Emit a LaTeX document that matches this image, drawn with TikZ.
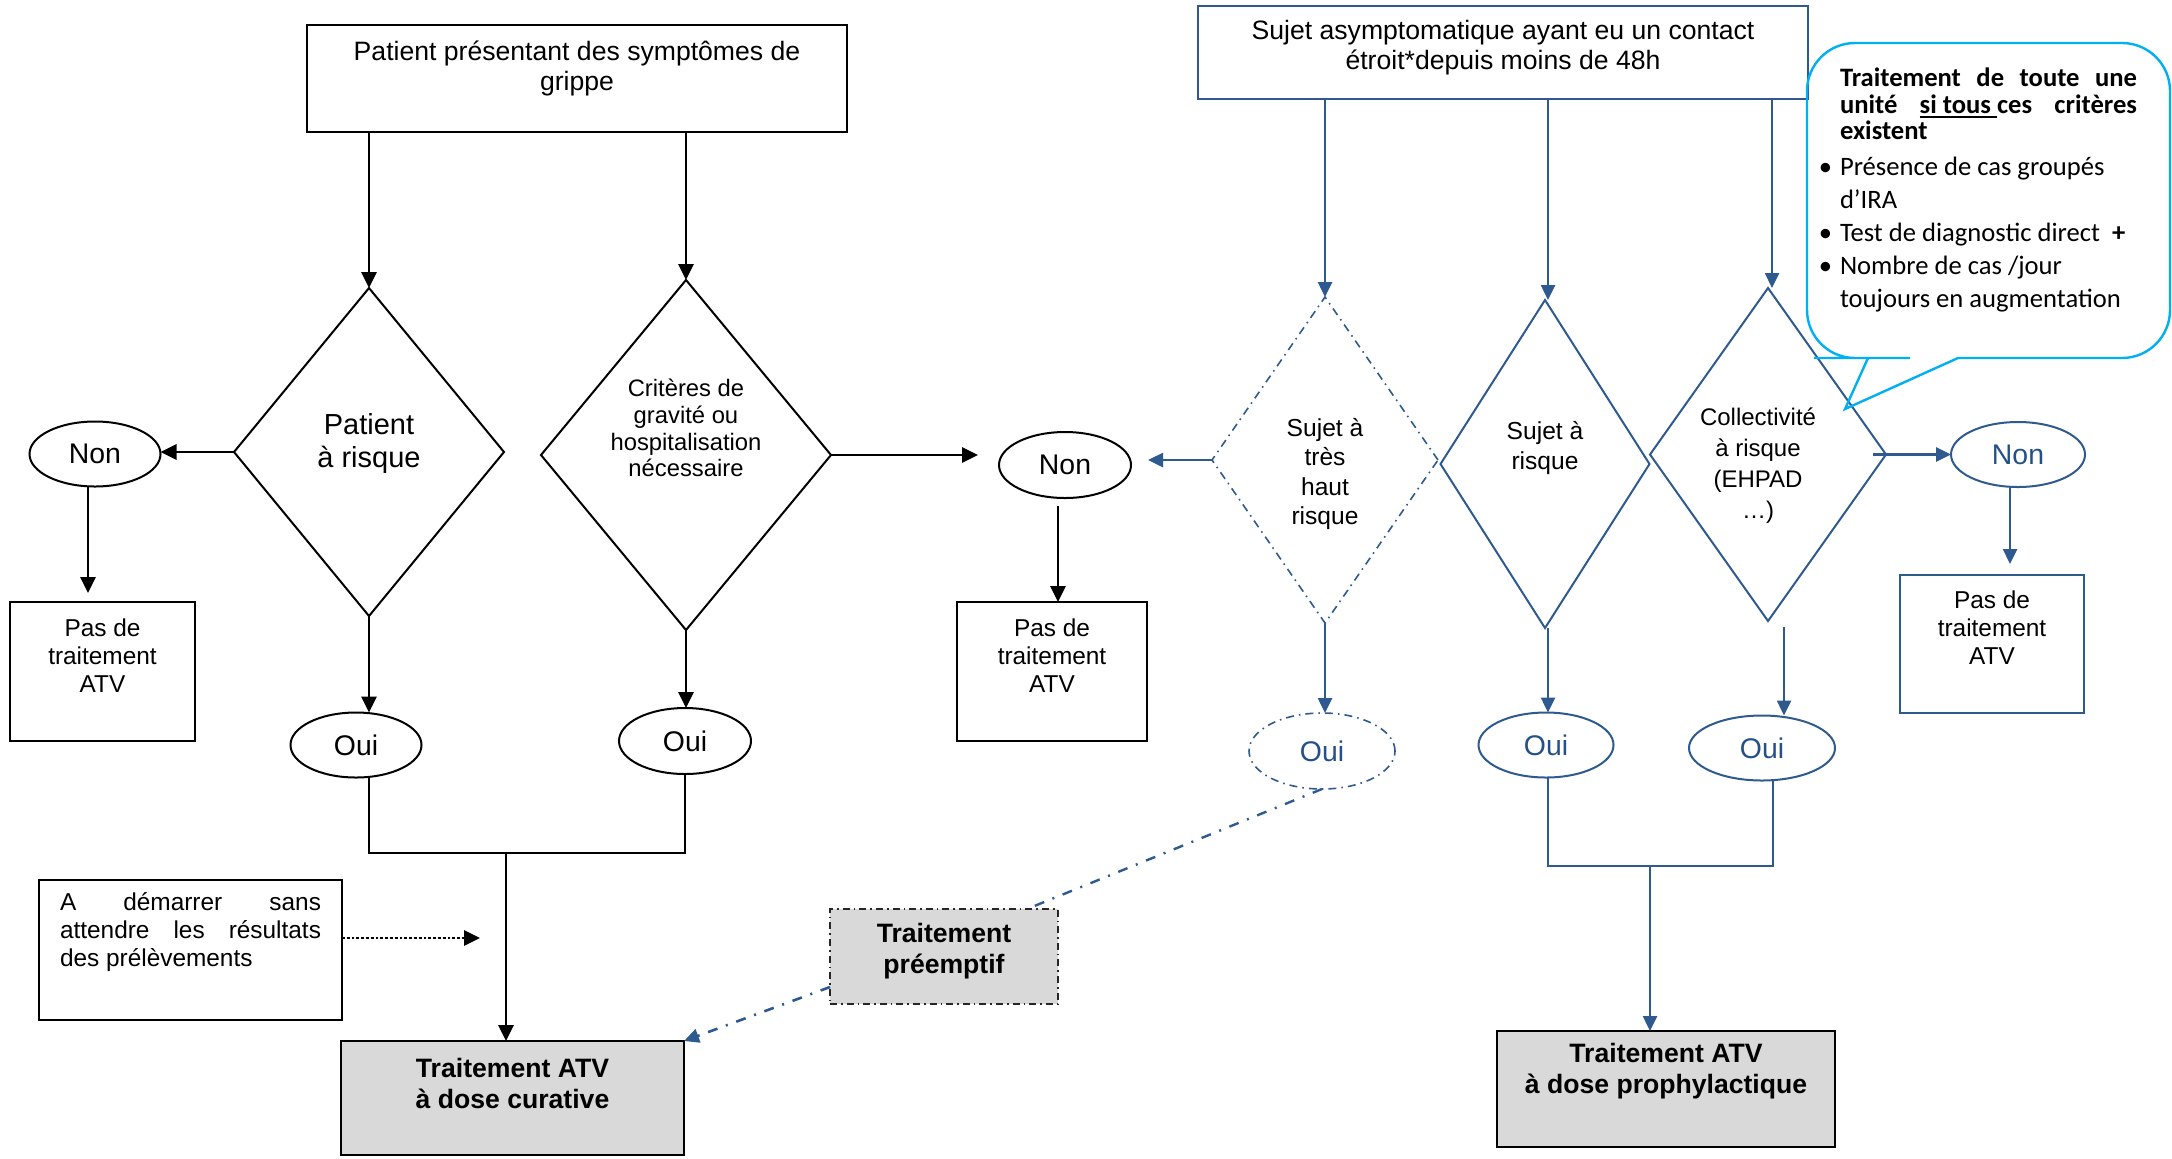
\documentclass[tikz,border=0pt]{standalone}
\usepackage{fontspec}
\setmainfont{Liberation Sans}
\newfontfamily\calfont{Carlito}
\usetikzlibrary{arrows.meta,shapes.geometric}
\definecolor{lblue}{HTML}{2F5A8F}
\definecolor{tblue}{HTML}{24508A}
\definecolor{cblue}{HTML}{00B0F0}
\definecolor{gfill}{HTML}{D9D9D9}
\newcommand{\ulbox}[1]{\setbox0\hbox{#1}\rlap{\rule[-2.6pt]{\wd0}{1.1pt}}\box0}
\newcommand{\fmain}{\fontsize{13.3}{15}\selectfont}
\newcommand{\fboldtxt}{\bfseries\fontsize{13.3}{15.5}\selectfont}
\newcommand{\fsmalltxt}{\fontsize{12.2}{14}\selectfont}
\newcommand{\fcrit}{\fontsize{11.9}{13.4}\selectfont}
\newcommand{\fpat}{\fontsize{14.5}{16.5}\selectfont}
\newcommand{\fcoll}{\fontsize{12}{15.5}\selectfont}
\newcommand{\fsuj}{\fontsize{12.3}{14.7}\selectfont}
\newcommand{\fon}{\fontsize{14.2}{16}\selectfont}
\newcommand{\bulitem}{\leavevmode\llap{\textbullet\hspace{4pt}}}
\begin{document}
\begin{tikzpicture}[x=0.5pt,y=-0.5pt,
  box/.style={shape=rectangle, draw=black, line width=1pt, inner sep=0pt, outer sep=0pt},
  bbox/.style={box, draw=lblue},
  dia/.style={shape=diamond, draw=black, line width=1pt, inner sep=0pt, outer sep=0pt},
  bdia/.style={dia, draw=lblue},
  ell/.style={shape=ellipse, draw=black, line width=1pt, inner sep=0pt, outer sep=0pt, font=\fon},
  bell/.style={ell, draw=lblue, text=tblue},
  lbl/.style={shape=rectangle, draw=none, fill=none, inner sep=0pt, align=center, text=black},
  arr/.style={-{Triangle[length=8pt,width=7.5pt]}, line width=1.4pt, draw=black},
  barr/.style={-{Triangle[length=7.5pt,width=7pt]}, line width=1.3pt, draw=lblue},
  ln/.style={line width=1.1pt, draw=black},
  bln/.style={line width=1.2pt, draw=lblue},
  ddot/.style={dash pattern=on 4pt off 2.5pt on 0.8pt off 2.5pt},
  ddotwide/.style={dash pattern=on 5pt off 4.5pt on 1pt off 4.5pt},
]
\useasboundingbox (0,0) rectangle (2172,1158);

% ---------- left part ----------
\node[box, minimum width=270pt, minimum height=53.5pt,
  label={[lbl,font=\fmain,yshift=5.25pt]center:{Patient présentant des symptômes de\\grippe}}] (topL) at (577,78.5) {};
\node[dia, minimum width=135pt, minimum height=164pt,
  label={[lbl,font=\fpat,yshift=4.25pt]center:{Patient\\à risque}}] (d1) at (369,452) {};
\node[dia, minimum width=145pt, minimum height=175pt,
  label={[lbl,font=\fcrit,yshift=13.5pt]center:{Critères de\\gravité ou\\hospitalisation\\nécessaire}}] (d2) at (686,455) {};
\node[ell, minimum width=65.5pt, minimum height=32.5pt] (nonL) at (95,454) {Non};
\node[box, minimum width=92.5pt, minimum height=69.5pt,
  label={[lbl,font=\fsmalltxt,yshift=8pt]center:{Pas de\\traitement\\ATV}}] (pasL) at (102.5,671.5) {};
\node[ell, minimum width=65.5pt, minimum height=32.5pt] (oui1) at (356,745) {Oui};
\node[ell, minimum width=66pt, minimum height=33pt] (oui2) at (685,741) {Oui};
\node[ell, minimum width=66pt, minimum height=33pt] (nonM) at (1065,465) {Non};
\node[box, minimum width=95pt, minimum height=69.5pt,
  label={[lbl,font=\fsmalltxt,yshift=8pt]center:{Pas de\\traitement\\ATV}}] (pasM) at (1052,671.5) {};
\node[box, fill=gfill, minimum width=171.5pt, minimum height=57pt,
  label={[lbl,font=\fboldtxt,yshift=7.5pt]center:{Traitement ATV\\à dose curative}}] (cur) at (512.5,1098) {};
\node[box, minimum width=151.5pt, minimum height=70pt,
  label={[lbl,font=\fsmalltxt,text width=130.5pt,align=justify,yshift=8.75pt]center:{A démarrer sans\linebreak attendre les résultats\linebreak des prélèvements}}] (dem) at (190.5,950) {};
\node[box, fill=gfill, draw=black!85, dash pattern=on 3.5pt off 2pt on 0.8pt off 2pt, minimum width=114pt, minimum height=47.5pt,
  label={[lbl,font=\fboldtxt,yshift=2.75pt]center:{Traitement\\préemptif}}] (pre) at (944,956.5) {};

% ---------- right part ----------
\node[bbox, minimum width=305pt, minimum height=46.5pt,
  label={[lbl,font=\fmain,yshift=2.25pt]center:{Sujet asymptomatique ayant eu un contact\\étroit*depuis moins de 48h}}] (topR) at (1503,52.5) {};
\node[bdia, ddot, line width=0.8pt, minimum width=113pt, minimum height=163pt,
  label={[lbl,font=\fsuj,yshift=-7pt]center:{Sujet à\\très\\haut\\risque}}] (d3) at (1325,460) {};
\node[bdia, minimum width=104.5pt, minimum height=164pt,
  label={[lbl,font=\fsuj,yshift=8pt]center:{Sujet à\\risque}}] (d4) at (1545,464) {};
\node[bdia, minimum width=118pt, minimum height=166.5pt,
  label={[lbl,font=\fcoll,xshift=-5pt,yshift=-5.75pt]center:{Collectivité\\à risque\\(EHPAD\\…)}}] (d5) at (1768,454.5) {};
\node[bell, ddot, line width=0.8pt, minimum width=73pt, minimum height=38pt] (ouiD) at (1322,751) {Oui};
\node[bell, minimum width=67.5pt, minimum height=32.5pt] (oui4) at (1546,745) {Oui};
\node[bell, minimum width=73pt, minimum height=32.5pt] (oui5) at (1762,748) {Oui};
\node[bell, minimum width=67pt, minimum height=32.5pt] (nonR) at (2018,454.5) {Non};
\node[bbox, minimum width=92pt, minimum height=69pt,
  label={[lbl,font=\fsmalltxt,yshift=8.25pt]center:{Pas de\\traitement\\ATV}}] (pasR) at (1992,644) {};
\node[box, fill=gfill, minimum width=169pt, minimum height=58pt,
  label={[lbl,font=\fboldtxt,yshift=8.75pt]center:{Traitement ATV\\à dose prophylactique}}] (pro) at (1666,1089) {};

% ---------- callout ----------
\draw[cblue, line width=1.2pt, rounded corners=24pt] (1990,43) -- (1807,43) -- (1807,358) -- (1862,358)
  [sharp corners] -- (1868,358) -- (1845,409) -- (1958,358) -- (1964,358)
  [rounded corners=24pt] -- (2170,358) -- (2170,43) -- cycle;
\node[anchor=north west, inner sep=0pt, outer sep=0pt, text width=148.5pt, align=justify,
  font=\calfont\fontsize{13.3}{13.3}\selectfont] (calltxt) at (1840,68) {%
\setlength{\parindent}{0pt}%
{\bfseries Traitement de toute une\linebreak unité \ulbox{si tous\ }ces critères\linebreak existent\par}
\fontsize{13.3}{16.6}\selectfont
\vspace{1pt}
\bulitem Présence de cas groupés\\d’IRA\par
\bulitem Test de diagnostic direct \ \textbf{+}\par
\bulitem Nombre de cas /jour\\toujours en augmentation\par};

% ---------- connectors left ----------
\draw[arr] (d1.north |- topL.south) -- (d1.north);
\draw[arr] (d2.north |- topL.south) -- (d2.north);
\draw[arr] (d1.west) -- (d1.west -| nonL.east);
\draw[arr, shorten >=4.5pt] ([xshift=-3.5pt]nonL.south) -- ([xshift=-3.5pt]nonL.south |- pasL.north);
\draw[arr] (d1.south) -- (d1.south |- oui1.north);
\draw[arr] (d2.south) -- (d2.south |- oui2.north);
\coordinate (j1) at (506,853);
\draw[ln] (oui1.south -| d1.south) -- (j1 -| d1.south) -- (j1 -| oui2.south) -- (oui2.south);
\draw[arr] (j1) -- (j1 |- cur.north);
\coordinate (demtip) at (480,938);
\draw[arr, densely dotted] (dem.east |- demtip) -- (demtip);
\draw[arr, shorten >=10.5pt] (d2.east) -- (d2.east -| nonM.west);
\draw[arr, shorten <=4pt] ([xshift=-3.5pt]nonM.south) -- ([xshift=-3.5pt]nonM.south |- pasM.north);

% ---------- connectors right ----------
\draw[barr] (d3.north |- topR.south) -- (d3.north);
\draw[barr] ([xshift=1.5pt]d4.north |- topR.south) -- ([xshift=1.5pt]d4.north);
\draw[barr] ([xshift=2pt]d5.north |- topR.south) -- ([xshift=2pt]d5.north);
\draw[barr, shorten >=8.5pt] (d3.west) -- (d3.west -| nonM.east);
\draw[barr] (d3.south) -- (d3.south |- ouiD.north);
\draw[barr] ([xshift=1.5pt]d4.south) -- ([xshift=1.5pt]d4.south |- oui4.north);
\coordinate (c5) at (1784,627);
\draw[barr] (c5) -- (c5 |- oui5.north);
\draw[barr] ([xshift=-6.5pt]d5.east) -- (nonR.west);
\draw[barr, shorten >=5.5pt] ([xshift=-4pt]nonR.south) -- ([xshift=-4pt]nonR.south |- pasR.north);
\coordinate (j2) at (1650,866);
\coordinate (j2r) at (1773,866);
\draw[bln] ([xshift=1pt]oui4.south) -- ([xshift=1pt]oui4.south |- j2) -- (j2r) -- (j2r |- oui5.south);
\draw[barr] (j2) -- (j2 |- pro.north);
\draw[bln, ddotwide] (ouiD.south) -- ([xshift=41.5pt]pre.north);
\draw[barr, ddotwide] ([yshift=-15.25pt]pre.west) -- (cur.north east);
\end{tikzpicture}
\end{document}
